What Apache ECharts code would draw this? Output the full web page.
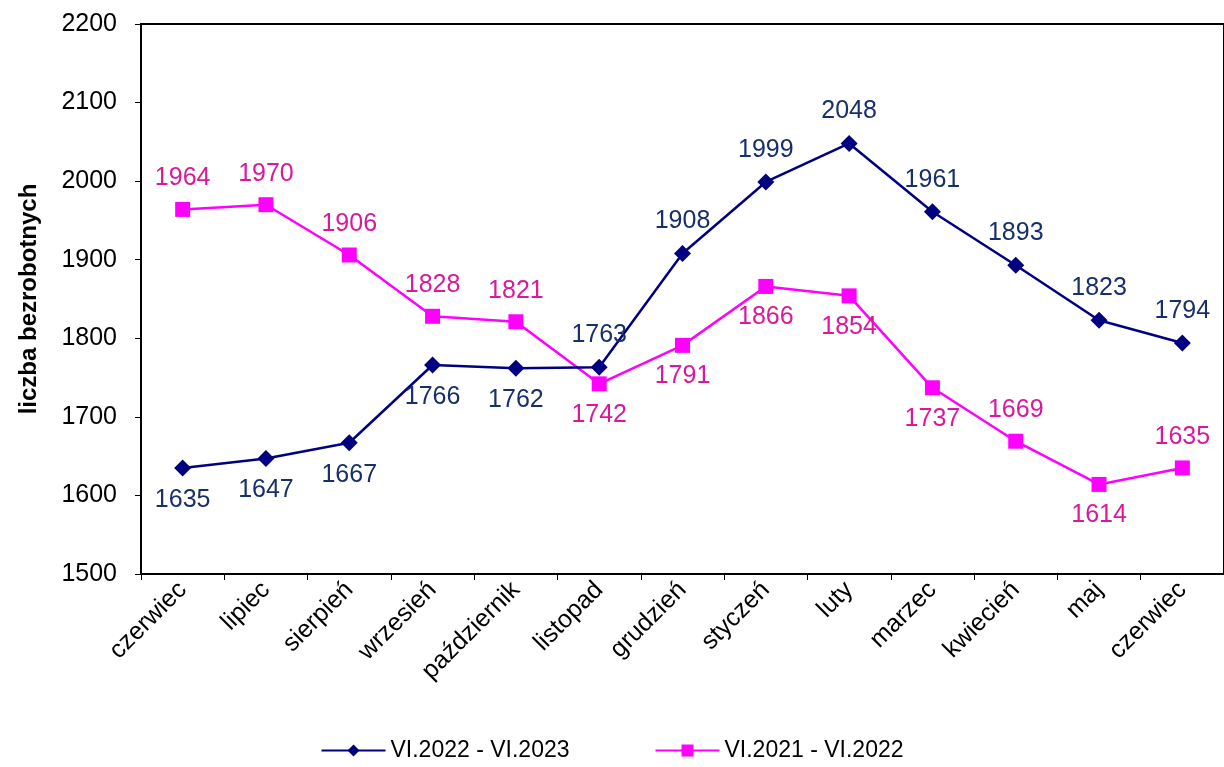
<!DOCTYPE html>
<html>
<head>
<meta charset="utf-8">
<script src="https://cdn.jsdelivr.net/npm/echarts@6/dist/echarts.min.js"></script>
<style>
  html, body {margin: 0; padding: 0; background: #fff;}
  #chart {width: 1224px; height: 767px;}
</style>
</head>
<body>
<div id="chart"></div>
<script>
const months = ['czerwiec', 'lipiec', 'sierpień', 'wrzesień', 'październik', 'listopad',
  'grudzień', 'styczeń', 'luty', 'marzec', 'kwiecień', 'maj', 'czerwiec'];

const series2023 = [1635, 1647, 1667, 1766, 1762, 1763, 1908, 1999, 2048, 1961, 1893, 1823, 1794];
const series2022 = [1964, 1970, 1906, 1828, 1821, 1742, 1791, 1866, 1854, 1737, 1669, 1614, 1635];

// where each data label sits
const pos2023 = ['bottom', 'bottom', 'bottom', 'bottom', 'bottom', 'top', 'top', 'top', 'top', 'top', 'top', 'top', 'top'];
const pos2022 = ['top', 'top', 'top', 'top', 'top', 'bottom', 'bottom', 'bottom', 'bottom', 'bottom', 'top', 'bottom', 'top'];

const font = 'Liberation Sans, Arial, sans-serif';

function withLabels(values, positions) {
  return values.map((v, i) => ({
    value: v,
    label: {position: positions[i]}
  }));
}

const chart = echarts.init(document.getElementById('chart'));

chart.setOption({
  animation: false,
  grid: {
    left: 141,
    right: -1,
    top: 24,
    bottom: 193,
    show: true,
    borderColor: '#000',
    borderWidth: 2,
    containLabel: false
  },
  legend: {
    bottom: 0,
    left: 'center',
    itemGap: 85,
    itemWidth: 64,
    itemHeight: 15,
    textStyle: {fontFamily: font, fontSize: 23, color: '#000'},
    data: ['VI.2022 - VI.2023', 'VI.2021 - VI.2022']
  },
  xAxis: {
    type: 'category',
    data: months,
    boundaryGap: true,
    axisLine: {lineStyle: {color: '#000', width: 2}},
    axisTick: {show: true, length: 6, lineStyle: {color: '#000'}},
    axisLabel: {
      rotate: 45,
      interval: 0,
      margin: 12,
      fontFamily: font,
      fontSize: 25,
      color: '#000'
    }
  },
  yAxis: {
    type: 'value',
    min: 1500,
    max: 2200,
    interval: 100,
    name: 'liczba bezrobotnych',
    nameLocation: 'middle',
    nameRotate: 90,
    nameGap: 100,
    nameTextStyle: {fontFamily: font, fontSize: 24, fontWeight: 'bold', color: '#000'},
    axisLine: {show: true, lineStyle: {color: '#000', width: 2}},
    axisTick: {show: true, length: 6, lineStyle: {color: '#000'}},
    splitLine: {show: false},
    axisLabel: {fontFamily: font, fontSize: 25, color: '#000', margin: 24, formatter: v => String(v)}
  },
  series: [
    {
      name: 'VI.2022 - VI.2023',
      type: 'line',
      data: withLabels(series2023, pos2023),
      symbol: 'diamond',
      symbolSize: 17,
      itemStyle: {color: '#000080'},
      lineStyle: {color: '#000080', width: 2.5},
      label: {
        show: true,
        distance: 11,
        fontFamily: font,
        fontSize: 25,
        color: '#17306b'
      },
      z: 3
    },
    {
      name: 'VI.2021 - VI.2022',
      type: 'line',
      data: withLabels(series2022, pos2022),
      symbol: 'rect',
      symbolSize: 15,
      itemStyle: {color: '#ff00ff'},
      lineStyle: {color: '#ff00ff', width: 2.5},
      label: {
        show: true,
        distance: 11,
        fontFamily: font,
        fontSize: 25,
        color: '#d9189b'
      },
      z: 2
    }
  ]
});
</script>
</body>
</html>
